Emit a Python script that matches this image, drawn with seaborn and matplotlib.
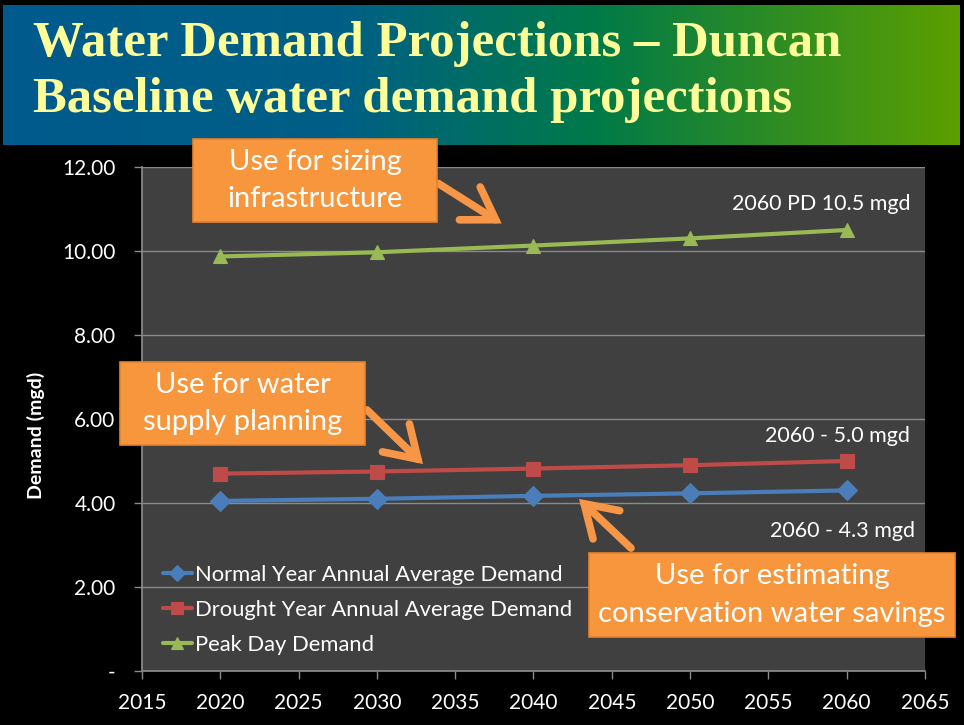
import numpy as np
import pandas as pd
import matplotlib
matplotlib.use("Agg")
import matplotlib.pyplot as plt
import seaborn as sns
from matplotlib.patches import FancyBboxPatch, FancyArrowPatch
from matplotlib.colors import LinearSegmentedColormap

# ---- data ----
years = [2020, 2030, 2040, 2050, 2060]
normal = [4.05, 4.10, 4.17, 4.23, 4.30]
drought = [4.70, 4.75, 4.82, 4.90, 5.00]
peak = [9.87, 9.97, 10.13, 10.30, 10.50]
series_names = ["Normal Year Annual Average Demand",
                "Drought Year Annual Average Demand",
                "Peak Day Demand"]
yticks = [0, 2, 4, 6, 8, 10, 12]
ytick_labels = ["-", "2.00", "4.00", "6.00", "8.00", "10.00", "12.00"]
xticks = [2015, 2020, 2025, 2030, 2035, 2040, 2045, 2050, 2055, 2060, 2065]

df = pd.DataFrame({
    "Year": years * 3,
    "Demand": normal + drought + peak,
    "Series": [series_names[0]] * 5 + [series_names[1]] * 5 + [series_names[2]] * 5,
})

sns.set_theme(style="dark")
plt.rcParams["font.family"] = ["Lato", "DejaVu Sans"]

W, H = 964, 725
fig = plt.figure(figsize=(W / 100, H / 100), dpi=100, facecolor="black")

def fx(x):
    return x / W

def fy(y):
    return 1 - y / H

# ---- banner ----
bax = fig.add_axes([fx(3), fy(145), fx(957), 140 / H])
cmap = LinearSegmentedColormap.from_list(
    "ban", [(0, "#005a8c"), (0.35, "#005f86"), (0.62, "#007a48"), (1, "#5c9f00")])
grad = np.linspace(0, 1, 256).reshape(1, -1)
bax.imshow(grad, aspect="auto", cmap=cmap, extent=[0, 1, 0, 1])
bax.set_axis_off()
title_kw = dict(color="#ffff99", fontsize=36.5, fontweight="bold",
                family=["Liberation Serif", "DejaVu Serif"], ha="left", va="baseline")
fig.text(fx(33), fy(56), "Water Demand Projections \u2013 Duncan", **title_kw)
fig.text(fx(33), fy(112), "Baseline water demand projections", **title_kw)

# ---- main axes ----
ax = fig.add_axes([fx(142), fy(671), fx(925 - 142), (671 - 167) / H])
ax.set_facecolor("#404040")
palette = {series_names[0]: "#4a7ebb", series_names[1]: "#be4b48", series_names[2]: "#98b954"}
markers = {series_names[0]: "D", series_names[1]: "s", series_names[2]: "^"}
sns.lineplot(data=df, x="Year", y="Demand", hue="Series", style="Series",
             palette=palette, markers=markers, dashes=False, linewidth=3,
             markersize=10.5, markeredgewidth=0.8, ax=ax, legend=True)
for ln in ax.lines:
    c = ln.get_color()
    ln.set_markeredgecolor(c)

ax.set_xlim(2015, 2065)
ax.set_ylim(0, 12)
ax.set_xticks(xticks)
ax.set_xticklabels([str(x) for x in xticks])
ax.set_yticks(yticks)
ax.set_yticklabels(ytick_labels)
ax.grid(axis="y", color="#8a8a8a", linewidth=1)
ax.grid(axis="x", visible=False)
ax.tick_params(colors="white", labelsize=15, length=6, width=1, direction="out",
               left=True, bottom=True)
ax.tick_params(axis="y", pad=13)
ax.tick_params(axis="x", pad=10)
ax.tick_params(axis="both", color="#8a8a8a")
for s in ["left", "bottom"]:
    ax.spines[s].set_visible(True)
    ax.spines[s].set_color("#8a8a8a")
for s in ["top", "right"]:
    ax.spines[s].set_visible(False)
ax.set_xlabel("")
ax.set_ylabel("")
fig.text(fx(36), fy(435), "Demand (mgd)", color="white", fontsize=14, fontweight="bold",
         rotation=90, ha="center", va="center")

leg = ax.legend(loc="upper left", bbox_to_anchor=(0.027, 0.21), frameon=False,
                fontsize=15.8, labelcolor="white", handlelength=1.3, markerscale=0.8,
                handletextpad=0.15, labelspacing=0.68, borderaxespad=0, borderpad=0)

# ---- value labels ----
lab_kw = dict(color="white", fontsize=15.5, ha="right", va="center")
fig.text(fx(911), fy(204), "2060 PD 10.5 mgd", **lab_kw)
fig.text(fx(910), fy(436), "2060 - 5.0 mgd", **lab_kw)
fig.text(fx(915), fy(531), "2060 - 4.3 mgd", **lab_kw)

# ---- callouts ----
orange = "#f7963c"
edge = "#e8822a"
arrow_c = "#f79646"

def callout(x0, y0, x1, y1, text, fs):
    box = FancyBboxPatch((fx(x0), fy(y1)), fx(x1 - x0), (y1 - y0) / H,
                         boxstyle="square,pad=0", transform=fig.transFigure,
                         facecolor=orange, edgecolor=edge, linewidth=1.2, zorder=10)
    fig.patches.append(box)
    fig.text(fx((x0 + x1) / 2), fy((y0 + y1) / 2), text, color="white", fontsize=fs,
             ha="center", va="center", linespacing=1.55, zorder=11)

def arrow(xa, ya, xb, yb):
    a = FancyArrowPatch((fx(xa), fy(ya)), (fx(xb), fy(yb)), transform=fig.transFigure,
                        arrowstyle="->,head_length=1.1,head_width=0.7", mutation_scale=20,
                        color=arrow_c, linewidth=5.5, zorder=9, capstyle="round",
                        joinstyle="miter")
    fig.patches.append(a)

arrow(436, 182, 504, 225)
arrow(365, 408, 425, 466)
arrow(633, 550, 577, 497)

callout(193, 139, 437, 222, "Use for sizing\ninfrastructure", 21)
callout(120, 362, 365, 445, "Use for water\nsupply planning", 21)
callout(589, 553, 955, 637, "Use for estimating\nconservation water savings", 21)

fig.savefig("out.png", dpi=100, facecolor="black")
